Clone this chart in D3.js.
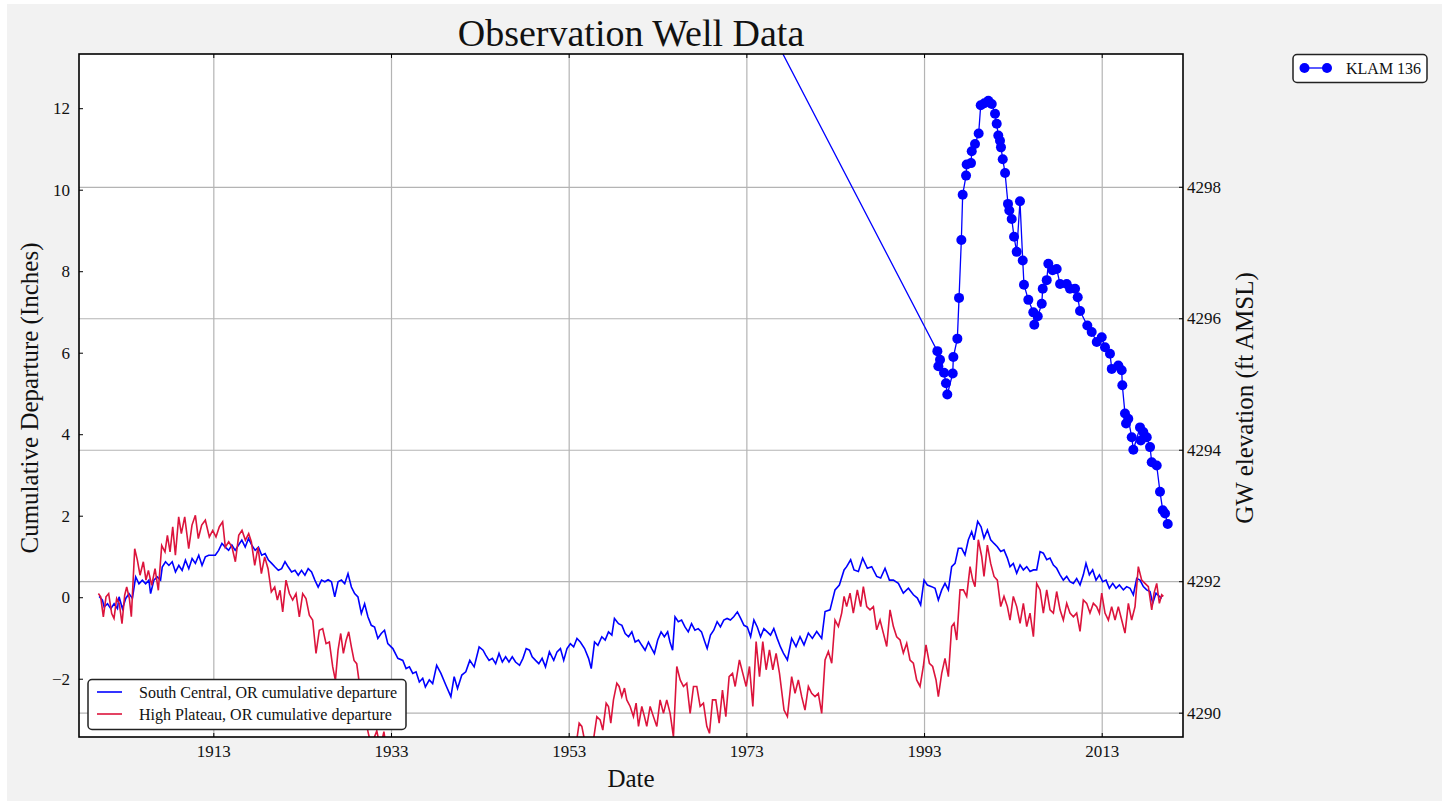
<!DOCTYPE html>
<html>
<head>
<meta charset="utf-8">
<script src="https://cdnjs.cloudflare.com/ajax/libs/d3/7.8.5/d3.min.js"></script>
<style>
body { margin: 0; background: #fff; }
text { font-family: "Liberation Serif", "DejaVu Serif", serif; fill: #111; }
</style>
</head>
<body>
<svg id="chart"></svg>
<script>
// South Central, OR cumulative departure (inches)
var scYears = [1900.15,1900.52,1900.71,1901.09,1901.46,1901.83,1902.21,1902.39,1902.77,1903.14,1903.51,1903.89,1904.26,1904.63,1905.01,1905.38,1905.75,1905.94,1906.31,1906.69,1907.06,1907.25,1907.62,1908.00,1908.37,1908.74,1909.12,1909.49,1909.86,1910.24,1910.61,1910.98,1911.36,1911.73,1912.10,1912.48,1912.85,1913.22,1913.60,1913.97,1914.34,1914.72,1915.09,1915.46,1915.84,1916.21,1916.59,1916.96,1917.33,1917.71,1918.08,1918.45,1918.83,1919.20,1919.57,1919.95,1920.32,1920.69,1921.07,1921.44,1921.81,1922.19,1922.56,1922.93,1923.31,1923.68,1924.06,1924.43,1924.80,1925.18,1925.55,1925.92,1926.30,1926.67,1927.04,1927.42,1927.79,1928.16,1928.54,1928.91,1929.28,1929.66,1930.03,1930.40,1930.78,1931.15,1931.52,1931.90,1932.27,1932.64,
  1933.21,1933.77,1934.33,1934.70,1935.07,1935.45,1935.82,1936.19,1936.57,1936.87,1937.31,1937.69,1938.14,1938.62,1939.18,1939.74,1940.11,1940.49,1940.97,1941.42,1941.87,1942.36,1942.92,1943.36,1943.66,1944.04,1944.41,1944.78,1945.16,1945.53,1945.90,1946.28,1946.65,1947.02,1947.47,1947.85,1948.22,1948.59,1948.89,1949.27,1949.64,1950.01,1950.39,1950.83,1951.32,1951.69,1952.07,1952.44,1952.81,1953.19,1953.56,1953.93,1954.31,1954.79,1955.24,1955.54,1955.91,1956.29,1956.73,1957.11,1957.48,1957.86,1958.15,
  1958.61,1958.99,1959.36,1959.74,1960.11,1960.48,1960.86,1961.23,1961.60,1961.98,1962.35,1962.65,1963.02,1963.40,1963.77,1964.14,1964.40,1964.70,1964.97,1965.34,1965.71,1966.09,1966.46,1966.83,1967.21,1967.58,1967.95,1968.33,1968.59,1968.96,1969.33,1969.71,1970.08,1970.46,1970.83,1971.20,1971.58,1971.99,1972.36,1972.73,1973.11,1973.48,1973.85,1974.23,1974.60,1974.97,1975.35,1975.72,1976.09,1976.47,1976.84,
  1977.17,1977.62,1978.10,1978.59,1979.04,1979.49,1979.98,1980.43,1980.92,1981.48,1981.86,1982.42,1982.98,1983.47,1984.00,1984.29,1984.74,1985.12,1985.61,1986.09,1986.62,1987.11,1987.67,1988.12,1988.61,1989.10,1989.55,1990.11,1990.67,1991.24,1991.80,1992.25,1992.62,1993.00,1993.37,1993.86,1994.24,1994.61,1994.99,1995.36,1995.74,1996.11,1996.49,1996.86,1997.24,1997.61,1997.99,1998.36,1998.63,1999.04,1999.42,1999.75,2000.13,2000.50,2000.88,2001.25,2001.63,2002.00,2002.38,2002.68,2003.05,2003.43,2003.81,2004.18,2004.56,2004.93,2005.31,2005.68,2006.06,2006.43,2006.81,2007.18,2007.56,2007.93,2008.31,2008.68,2009.06,2009.43,2009.81,2010.18,2010.56,2010.93,2011.23,2011.61,2011.98,2012.36,2012.74,2013.11,2013.49,2013.86,2014.24,2014.61,2014.99,2015.44,2015.81,2016.19,2016.56,2016.94,2017.31,2017.69,2018.06,2018.44,2018.74,2019.11,2019.49,2019.75];
var scValues = [0.02,-0.07,-0.24,-0.16,-0.28,-0.16,-0.28,0.01,-0.28,-0.03,0.09,-0.03,0.50,0.33,0.42,0.33,0.42,0.09,0.42,0.50,0.42,0.74,0.87,0.78,0.87,0.62,0.78,0.66,0.91,0.70,0.95,0.83,1.03,0.78,0.99,1.03,1.03,1.03,1.15,1.32,1.23,1.15,1.28,1.15,1.28,1.40,1.23,1.44,1.28,1.15,1.23,1.03,1.07,0.91,0.83,0.74,0.66,0.70,0.87,0.74,0.62,0.66,0.54,0.66,0.54,0.70,0.62,0.42,0.25,0.42,0.38,0.43,0.38,0.01,0.38,0.42,0.33,0.58,0.25,0.09,0.01,-0.40,-0.16,-0.48,-0.69,-0.73,-1.01,-0.89,-0.81,-1.14,
  -1.26,-1.50,-1.55,-1.75,-1.71,-1.87,-1.83,-2.08,-1.99,-2.20,-2.03,-2.12,-1.67,-1.87,-2.16,-2.44,-1.95,-2.24,-1.91,-1.83,-1.55,-1.71,-1.22,-1.30,-1.42,-1.55,-1.50,-1.63,-1.38,-1.59,-1.46,-1.59,-1.46,-1.59,-1.67,-1.50,-1.26,-1.30,-1.46,-1.55,-1.63,-1.50,-1.71,-1.34,-1.55,-1.34,-1.26,-1.55,-1.26,-1.14,-1.22,-1.01,-1.10,-1.26,-1.50,-1.75,-1.10,-1.18,-0.97,-1.05,-0.85,-0.93,-0.52,
  -0.65,-0.69,-0.89,-0.97,-0.85,-1.10,-1.05,-1.18,-1.30,-1.10,-1.26,-1.38,-1.05,-0.85,-0.97,-0.85,-1.10,-1.30,-0.48,-0.60,-0.56,-0.73,-0.85,-0.65,-0.81,-0.77,-0.85,-1.10,-1.26,-0.93,-0.81,-0.60,-0.73,-0.56,-0.52,-0.56,-0.48,-0.36,-0.52,-0.69,-0.73,-0.97,-0.56,-0.73,-0.97,-0.77,-0.85,-0.93,-0.77,-1.01,-1.22,
  -1.37,-1.54,-1.01,-1.21,-0.97,-1.17,-0.88,-1.01,-0.84,-1.01,-0.35,-0.31,0.18,0.30,0.67,0.75,0.92,0.67,0.63,0.96,0.71,0.75,0.51,0.47,0.71,0.42,0.42,0.34,0.10,0.22,0.06,-0.02,-0.19,0.42,0.30,0.26,0.22,-0.07,0.18,0.34,0.18,0.75,0.83,1.20,1.20,1.04,1.41,1.61,1.41,1.86,1.73,1.45,1.65,1.41,1.32,1.24,1.12,1.16,0.96,0.75,0.83,0.59,0.79,0.67,0.75,0.63,0.67,0.67,1.12,1.08,0.92,0.96,0.79,0.71,0.55,0.42,0.51,0.38,0.34,0.46,0.30,0.55,0.83,0.55,0.67,0.42,0.55,0.38,0.42,0.22,0.34,0.22,0.30,0.18,0.26,0.22,0.06,0.46,0.42,0.26,0.18,0.14,-0.15,0.10,0.02,-0.03];

// High Plateau, OR cumulative departure (inches)
var hpYears = [1900.06,1900.32,1900.62,1900.92,1901.22,1901.56,1901.82,1902.12,1902.42,1902.72,1903.02,1903.25,1903.55,1903.77,1904.15,1904.45,1904.75,1905.12,1905.42,1905.69,1906.06,1906.44,1906.81,1907.19,1907.56,1907.83,1908.13,1908.43,1908.73,1909.10,1909.40,1909.78,1910.23,1910.60,1910.98,1911.31,1911.69,1912.10,1912.55,1912.93,1913.30,1913.68,1914.05,1914.35,1914.73,1915.10,1915.48,1915.86,1916.23,1916.61,1916.98,1917.28,1917.66,1918.03,1918.41,1918.78,1919.16,1919.53,1919.91,1920.21,1920.51,1920.81,1921.18,1921.56,1921.93,1922.31,1922.68,1923.06,1923.43,1923.81,1924.18,1924.56,1924.93,1925.31,1925.69,1926.06,1926.44,1926.74,1927.04,1927.34,1927.64,1927.94,1928.24,1928.54,1928.84,1929.14,1929.44,1929.89,1930.45,
  1930.80,1931.10,1931.40,1931.80,1932.20,1932.60,1933.50,1935.00,1938.00,1942.00,1946.00,1950.00,1952.50,1953.40,
  1953.91,1954.18,1954.48,1954.78,1955.23,1955.79,1956.17,1956.54,1956.84,1957.22,1957.48,1957.74,1958.04,1958.42,1958.68,1958.98,1959.28,1959.54,1959.92,1960.29,1960.59,1960.86,1961.23,1961.53,1961.79,1962.17,1962.54,1962.92,1963.29,1963.67,1964.04,1964.42,1964.79,1965.17,1965.55,1965.92,1966.29,1966.67,1967.05,1967.42,1967.80,1968.17,1968.55,1968.85,1969.19,1969.56,1969.94,1970.31,1970.69,1971.06,1971.44,1971.74,1972.22,1972.60,1972.98,1973.35,1973.73,1974.10,1974.48,1974.85,1975.23,1975.60,1975.98,1976.35,1976.73,
  1977.24,1977.62,1978.10,1978.48,1978.85,1979.23,1979.60,1979.98,1980.35,1980.73,1981.10,1981.48,1981.86,1982.23,1982.61,1982.98,1983.36,1983.73,1984.00,1984.29,1984.67,1985.04,1985.49,1985.87,1986.17,1986.55,1986.92,1987.30,1987.67,1988.05,1988.42,1988.80,1989.17,1989.55,1989.92,1990.30,1990.67,1991.05,1991.42,1991.80,1992.17,1992.55,1992.92,1993.22,1993.60,1993.97,1994.35,1994.61,1994.99,1995.36,1995.74,1996.11,1996.38,1996.68,1997.05,1997.43,1997.80,1998.18,1998.48,1998.74,1999.11,1999.49,1999.75,2000.13,2000.50,2000.88,2001.25,2001.63,2002.00,2002.38,2002.68,2003.05,2003.43,2003.81,2004.18,2004.56,2004.93,2005.31,2005.68,2006.06,2006.43,2006.81,2007.18,2007.56,2007.93,2008.31,2008.68,2009.06,2009.43,2009.81,2010.18,2010.56,2010.93,2011.31,2011.68,2012.06,2012.43,2012.74,2013.00,2013.37,2013.75,2014.12,2014.50,2014.87,2015.25,2015.62,2016.00,2016.37,2016.75,2017.12,2017.50,2017.87,2018.25,2018.63,2018.89,2019.19,2019.49,2019.75,2019.94];
var hpValues = [0.09,0.01,-0.48,0.01,0.09,-0.40,-0.52,-0.03,-0.16,-0.65,0.05,0.25,-0.03,-0.48,1.19,0.91,0.54,0.87,0.42,0.66,0.29,0.70,0.17,1.27,1.11,1.52,1.11,1.73,1.03,1.97,1.56,1.97,1.19,1.77,2.01,1.44,1.77,1.89,1.48,1.64,1.48,1.73,1.85,1.23,1.36,1.23,0.87,1.52,1.64,1.40,1.56,1.36,0.78,1.23,0.58,0.99,0.70,0.13,0.25,-0.07,0.17,-0.36,0.42,0.09,-0.07,0.09,-0.48,0.09,-0.03,-0.44,-0.56,-1.38,-0.81,-0.77,-1.14,-1.10,-1.71,-2.04,-1.30,-0.89,-1.38,-1.06,-0.85,-1.22,-1.55,-1.63,-2.12,-2.77,-3.34,
  -3.65,-3.45,-3.28,-3.70,-3.30,-3.90,-4.30,-4.80,-5.20,-5.40,-5.10,-4.60,-4.00,-3.80,
  -3.50,-3.09,-3.17,-3.50,-3.67,-3.50,-2.93,-3.01,-3.26,-2.60,-2.68,-3.09,-2.52,-2.11,-2.19,-2.44,-2.23,-2.52,-2.68,-2.93,-2.60,-3.17,-2.68,-2.93,-3.17,-2.68,-2.93,-3.17,-2.52,-2.85,-2.52,-2.85,-3.42,-1.70,-2.03,-2.19,-2.11,-2.85,-2.19,-2.19,-2.68,-2.60,-3.17,-3.34,-2.52,-2.52,-3.09,-2.28,-2.93,-1.95,-1.87,-2.19,-1.54,-1.87,-2.19,-1.70,-2.68,-1.09,-1.95,-1.09,-1.78,-1.29,-1.78,-1.38,-1.87,
  -2.77,-2.93,-1.95,-2.36,-2.03,-2.44,-2.77,-2.19,-2.36,-2.44,-2.36,-2.85,-1.54,-1.33,-1.62,-0.56,-0.72,-0.39,0.02,-0.23,0.10,-0.39,0.18,-0.23,0.26,-0.23,-0.31,-0.23,-0.80,-0.56,-0.88,-1.21,-0.31,-0.72,-0.97,-1.05,-1.37,-1.13,-1.54,-1.62,-2.03,-2.19,-1.70,-1.17,-1.62,-1.70,-2.03,-2.44,-1.87,-1.50,-1.95,-0.72,-0.64,-1.05,0.18,0.18,0.02,0.75,0.42,0.26,1.41,1.00,0.51,1.28,0.83,0.51,0.42,-0.23,0.02,-0.23,-0.56,0.02,-0.23,-0.64,-0.15,-0.72,-0.39,-0.97,0.34,0.18,-0.39,0.18,-0.31,-0.39,0.14,-0.31,-0.56,-0.15,-0.39,-0.48,-0.39,-0.84,-0.07,-0.15,-0.39,-0.15,-0.23,-0.39,0.10,-0.39,-0.56,-0.23,-0.56,-0.23,-0.56,-0.88,-0.15,-0.56,-0.23,0.75,0.42,0.34,0.26,-0.31,0.10,0.34,-0.15,0.06,0.02];

// KLAM 136 groundwater elevation (ft AMSL)
var wellYears = [1970.00,1994.50,1994.61,1994.80,1995.25,1995.47,1995.62,1996.23,1996.30,1996.75,1996.94,1997.20,1997.35,1997.73,1997.80,1998.29,1998.37,1998.74,1999.15,1999.38,1999.79,2000.24,2000.62,2000.99,2001.18,2001.36,2001.55,2001.66,2001.86,2002.12,2002.45,2002.60,2002.87,2003.13,2003.43,2003.80,2004.11,2004.25,2004.74,2005.30,2005.41,2005.80,2006.25,2006.36,2006.81,2006.99,2007.48,2007.93,2008.31,2009.06,2009.43,2010.00,2010.30,2010.56,2011.38,2011.87,2012.44,2013.00,2013.37,2013.93,2014.13,2014.87,2015.25,2015.32,2015.62,2015.74,2015.99,2016.38,2016.56,2017.31,2017.40,2017.68,2018.07,2018.44,2018.63,2019.19,2019.56,2019.87,2020.13,2020.43];
var wellElev = [4301.87,4295.50,4295.27,4295.37,4295.17,4295.01,4294.84,4295.16,4295.41,4295.69,4296.31,4297.19,4297.88,4298.17,4298.34,4298.36,4298.54,4298.65,4298.81,4299.24,4299.27,4299.31,4299.26,4299.11,4298.96,4298.78,4298.70,4298.60,4298.42,4298.21,4297.74,4297.64,4297.51,4297.24,4297.01,4297.78,4296.88,4296.51,4296.28,4296.09,4295.90,4296.03,4296.22,4296.45,4296.58,4296.83,4296.73,4296.75,4296.52,4296.52,4296.45,4296.45,4296.32,4296.11,4295.89,4295.79,4295.64,4295.71,4295.56,4295.46,4295.23,4295.28,4295.21,4294.98,4294.55,4294.40,4294.47,4294.19,4294.00,4294.34,4294.14,4294.27,4294.19,4294.04,4293.81,4293.76,4293.36,4293.08,4293.03,4292.87];

var xTicks = [1913, 1933, 1953, 1973, 1993, 2013];
var leftTicks = [-2, 0, 2, 4, 6, 8, 10, 12];
var rightTicks = [4290, 4292, 4294, 4296, 4298];

var width = 1442, height = 801;
var pl = 79, pr = 1183, pt = 54, pb = 737;

var svg = d3.select("#chart")
  .attr("width", width)
  .attr("height", height);

svg.append("rect")
  .attr("x", 7).attr("y", 4)
  .attr("width", width - 7).attr("height", height - 4)
  .attr("fill", "#f2f2f2");

svg.append("rect")
  .attr("x", pl).attr("y", pt)
  .attr("width", pr - pl).attr("height", pb - pt)
  .attr("fill", "#fff");

var x = d3.scaleLinear().domain([1897.88, 2022.15]).range([pl, pr]);
var yL = d3.scaleLinear().domain([-3.43, 13.33]).range([pb, pt]);
var yR = d3.scaleLinear().domain([4289.63, 4300.02]).range([pb, pt]);

svg.append("clipPath").attr("id", "plotclip")
  .append("rect")
  .attr("x", pl).attr("y", pt)
  .attr("width", pr - pl).attr("height", pb - pt);

// grid
var gx = svg.append("g")
  .attr("transform", "translate(0," + pb + ")")
  .call(d3.axisBottom(x).tickValues(xTicks).tickSize(-(pb - pt)).tickFormat(""));
var gy = svg.append("g")
  .attr("transform", "translate(" + pr + ",0)")
  .call(d3.axisLeft(yR).tickValues(rightTicks).tickSize(pr - pl).tickFormat(""));
[gx, gy].forEach(function(g) {
  g.select(".domain").remove();
  g.selectAll("line").attr("stroke", "#b4b4b4").attr("stroke-width", 1.2);
});

var plot = svg.append("g").attr("clip-path", "url(#plotclip)");

var sc = d3.zip(scYears, scValues);
var hp = d3.zip(hpYears, hpValues);
var well = d3.zip(wellYears, wellElev);

var lineL = d3.line()
  .x(function(d) { return x(d[0]); })
  .y(function(d) { return yL(d[1]); });
var lineR = d3.line()
  .x(function(d) { return x(d[0]); })
  .y(function(d) { return yR(d[1]); });

plot.append("path")
  .datum(sc)
  .attr("d", lineL)
  .attr("fill", "none")
  .attr("stroke", "#0000ff")
  .attr("stroke-width", 1.6);

plot.append("path")
  .datum(hp)
  .attr("d", lineL)
  .attr("fill", "none")
  .attr("stroke", "#dc143c")
  .attr("stroke-width", 1.6);

plot.append("path")
  .datum(well)
  .attr("d", lineR)
  .attr("fill", "none")
  .attr("stroke", "#0000ff")
  .attr("stroke-width", 1.3);

plot.selectAll(".dot")
  .data(well)
  .enter().append("circle")
  .attr("class", "dot")
  .attr("cx", function(d) { return x(d[0]); })
  .attr("cy", function(d) { return yR(d[1]); })
  .attr("r", 5)
  .attr("fill", "#0000ff");

// frame
svg.append("rect")
  .attr("x", pl).attr("y", pt)
  .attr("width", pr - pl).attr("height", pb - pt)
  .attr("fill", "none")
  .attr("stroke", "#000")
  .attr("stroke-width", 1.6);

// axes, ticks pointing inward
var axB = svg.append("g")
  .attr("transform", "translate(0," + pb + ")")
  .call(d3.axisBottom(x).tickValues(xTicks).tickSize(-4).tickPadding(8).tickFormat(d3.format("d")));
var axT = svg.append("g")
  .attr("transform", "translate(0," + pt + ")")
  .call(d3.axisTop(x).tickValues(xTicks).tickSize(-4).tickFormat(""));
var axL = svg.append("g")
  .attr("transform", "translate(" + pl + ",0)")
  .call(d3.axisLeft(yL).tickValues(leftTicks).tickSize(-4).tickPadding(9).tickFormat(function(d) { return d < 0 ? "\u2212" + Math.abs(d) : d; }));
var axR = svg.append("g")
  .attr("transform", "translate(" + pr + ",0)")
  .call(d3.axisRight(yR).tickValues(rightTicks).tickSize(-4).tickPadding(4).tickFormat(d3.format("d")));
[axB, axT, axL, axR].forEach(function(g) {
  g.select(".domain").remove();
  g.selectAll("line").attr("stroke", "#000").attr("stroke-width", 1);
  g.selectAll("text")
    .attr("font-family", "Liberation Serif, DejaVu Serif, serif")
    .attr("font-size", 17)
    .attr("fill", "#111");
});

// titles
svg.append("text")
  .attr("x", (pl + pr) / 2).attr("y", 46)
  .attr("text-anchor", "middle")
  .attr("font-size", 38)
  .text("Observation Well Data");

svg.append("text")
  .attr("x", (pl + pr) / 2).attr("y", 787)
  .attr("text-anchor", "middle")
  .attr("font-size", 25)
  .text("Date");

svg.append("text")
  .attr("transform", "translate(38,398) rotate(-90)")
  .attr("text-anchor", "middle")
  .attr("font-size", 25)
  .text("Cumulative Departure (Inches)");

svg.append("text")
  .attr("transform", "translate(1253,398) rotate(-90)")
  .attr("text-anchor", "middle")
  .attr("font-size", 25)
  .text("GW elevation (ft AMSL)");

// legend for the departure lines
var leg1 = svg.append("g");
leg1.append("rect")
  .attr("x", 88).attr("y", 679.5)
  .attr("width", 318).attr("height", 50)
  .attr("rx", 4)
  .attr("fill", "#fff")
  .attr("stroke", "#222")
  .attr("stroke-width", 1.5);
var legItems = [
  {name: "South Central, OR cumulative departure", color: "#0000ff"},
  {name: "High Plateau, OR cumulative departure", color: "#dc143c"}
];
legItems.forEach(function(d, i) {
  var yy = 692 + i * 22;
  leg1.append("line")
    .attr("x1", 97).attr("x2", 122)
    .attr("y1", yy).attr("y2", yy)
    .attr("stroke", d.color)
    .attr("stroke-width", 1.6);
  leg1.append("text")
    .attr("x", 139).attr("y", yy + 5.5)
    .attr("font-size", 16)
    .text(d.name);
});

// legend for the well
var leg2 = svg.append("g");
leg2.append("rect")
  .attr("x", 1293).attr("y", 54.5)
  .attr("width", 134).attr("height", 28)
  .attr("rx", 4)
  .attr("fill", "#fff")
  .attr("stroke", "#222")
  .attr("stroke-width", 1.5);
leg2.append("line")
  .attr("x1", 1304.5).attr("x2", 1327)
  .attr("y1", 68).attr("y2", 68)
  .attr("stroke", "#0000ff")
  .attr("stroke-width", 1.3);
[1304.5, 1327].forEach(function(cx) {
  leg2.append("circle")
    .attr("cx", cx).attr("cy", 68)
    .attr("r", 5)
    .attr("fill", "#0000ff");
});
leg2.append("text")
  .attr("x", 1346).attr("y", 73.5)
  .attr("font-size", 16)
  .text("KLAM 136");
</script>
</body>
</html>
